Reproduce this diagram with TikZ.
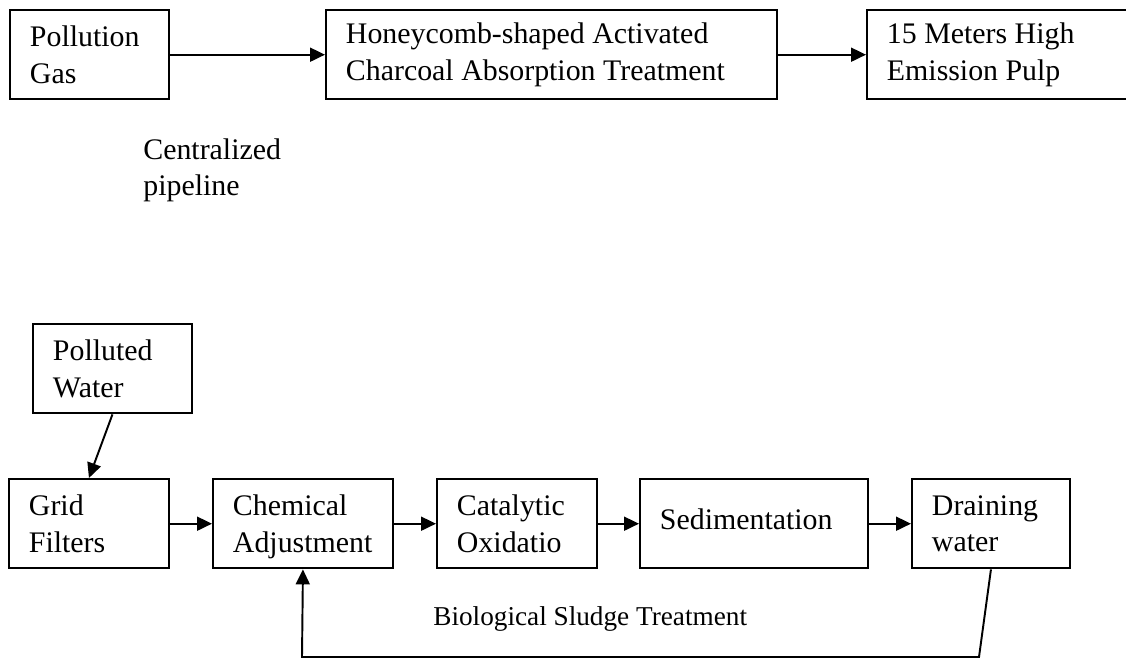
\documentclass[tikz,border=0pt]{standalone}
\usepackage{fontspec}
\setmainfont{Liberation Serif}
\usepackage{tikz}
\usetikzlibrary{arrows.meta}
\tikzset{
    process box/.style={rectangle, draw=black, line width=1.1pt, anchor=north west, minimum height=1.79cm, inner xsep=0.4cm, align=flush left, font={\fontsize{17}{21}\selectfont\hyphenpenalty=10000}},
    flow arrow/.style={-{Triangle[length=0.3cm, width=0.28cm]}, line width=1.1pt, black},
    plain label/.style={anchor=north west, inner sep=0pt, align=flush left, font=\fontsize{17}{21}\selectfont},
}

\begin{document}
\begin{tikzpicture}[x=0.02cm, y=-0.02cm]
    \useasboundingbox (0,0) rectangle (1126,658);
    % gas line
    \node[process box, text width=2.38cm] (gas) at (9,9) {Pollution\\Gas};
    \node[process box, text width=8.22cm] (charcoal) at (325,9) {Honeycomb-shaped Activated\\Charcoal Absorption Treatment};
    \node[process box, text width=4.48cm] (stack) at (866,9) {15 Meters High\\Emission Pulp};
    \node[plain label] (pipelinelabel) at (143,138) {Centralized\\pipeline};
    \draw[flow arrow] (gas) -- (charcoal);
    \draw[flow arrow] (charcoal) -- (stack);

    % water line
    \node[process box, text width=2.38cm] (polluted) at (32,323) {Polluted\\Water};
    \node[process box, text width=2.4cm] (grid) at (8,478) {Grid\\Filters};
    \node[process box, text width=2.8cm, text depth=21pt] (chemical) at (212,478) {Chemical\\Adjustment};
    \node[process box, text width=2.4cm] (catalytic) at (436,478) {Catalytic\\Oxidatio};
    \node[process box, text width=3.76cm, text depth=0.2cm] (sediment) at (639,478) {Sedimentation};
    \node[process box, text width=2.36cm] (draining) at (911,478) {Draining\\water};
    \node[plain label, font=\fontsize{15.5}{19}\selectfont] (sludgelabel) at (433,606) {Biological Sludge Treatment};
    \draw[flow arrow] (polluted.south) -- (grid.north);
    \draw[flow arrow] (grid) -- (chemical);
    \draw[flow arrow] (chemical) -- (catalytic);
    \draw[flow arrow] (catalytic) -- (sediment);
    \draw[flow arrow] (sediment) -- (draining);
    \coordinate (returnright) at (979,657);
    \coordinate (returnleft) at (302,657);
    \draw[flow arrow] (draining.south) -- (returnright) -- (returnleft) -- (chemical.south);
\end{tikzpicture}
\end{document}
